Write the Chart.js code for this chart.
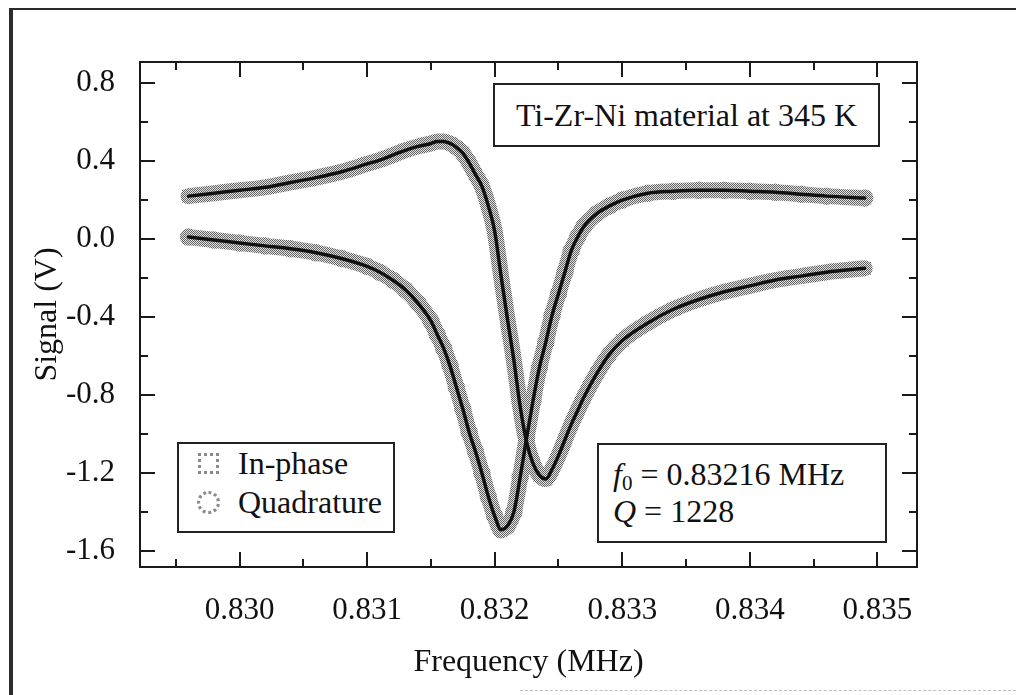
<!DOCTYPE html>
<html>
<head>
<meta charset="utf-8">
<title>Ti-Zr-Ni resonance</title>
<script src="https://cdn.jsdelivr.net/npm/chart.js@4.4.1/dist/chart.umd.min.js"></script>
<style>
  html, body { margin: 0; padding: 0; background: #fff; }
  #wrap {
    position: relative; width: 1016px; height: 695px; overflow: hidden;
    font-family: "Liberation Serif", "Times New Roman", serif; color: #111;
  }
  #chart { position: absolute; left: 0; top: 0; }
  .frame-top { position: absolute; left: 9px; top: 8px; width: 1007px; height: 2px; background: #2b2b2b; }
  .frame-left { position: absolute; left: 9px; top: 8px; width: 4px; height: 687px; background: #2b2b2b; }
  .frame-bottom { position: absolute; left: 520px; top: 690px; width: 496px; border-top: 1px dashed #bdbdbd; }
  .box { position: absolute; box-sizing: border-box; border: 2px solid #222; background: #fff; font-size: 32px; white-space: nowrap; }
  #title-box { left: 493px; top: 83px; width: 387px; height: 64px; line-height: 60px; text-align: center; }
  #legend-box { left: 177px; top: 442px; width: 218px; height: 91px; padding-top: 0; line-height: 39px; }
  #legend-box .row { position: relative; padding-left: 59px; }
  #legend-box .sym { position: absolute; left: 19px; top: 9px; width: 21px; height: 21px; box-sizing: border-box; border: 3px dotted #8a8a8a; }
  #legend-box .sym.circle { border-radius: 50%; width: 23px; height: 23px; left: 18px; top: 8px; }
  #fit-box { left: 597px; top: 443px; width: 290px; height: 100px; padding: 11px 0 0 14px; line-height: 37px; }
  #fit-box sub { font-size: 21px; vertical-align: -5px; line-height: 0; }
</style>
</head>
<body>
<div id="wrap">
  <canvas id="chart" width="1016" height="695"></canvas>
  <div class="frame-top"></div>
  <div class="frame-left"></div>
  <div class="frame-bottom"></div>
  <div class="box" id="title-box">Ti-Zr-Ni material at 345 K</div>
  <div class="box" id="legend-box">
    <div class="row"><span class="sym"></span>In-phase</div>
    <div class="row"><span class="sym circle"></span>Quadrature</div>
  </div>
  <div class="box" id="fit-box">
    <div><i>f</i><sub>0</sub> = 0.83216 MHz</div>
    <div><i>Q</i> = 1228</div>
  </div>
</div>
<script>
// lock-in signal vs drive frequency, fitted with a Lorentzian response
const freqMHz = [
  0.82960, 0.82980, 0.83000, 0.83020, 0.83040, 0.83060, 0.83080, 0.83100,
  0.83110, 0.83120, 0.83130, 0.83140, 0.83150, 0.83155, 0.83160, 0.83165,
  0.83170, 0.83175, 0.83180, 0.83185, 0.83190, 0.83195, 0.83200, 0.83205,
  0.83210, 0.83215, 0.83220, 0.83225, 0.83230, 0.83235, 0.83240, 0.83245,
  0.83250, 0.83255, 0.83260, 0.83265, 0.83270, 0.83280, 0.83290, 0.83300,
  0.83320, 0.83340, 0.83360, 0.83380, 0.83400, 0.83420, 0.83440, 0.83460,
  0.83490
];
const inPhaseV = [
  0.22, 0.235, 0.25, 0.265, 0.29, 0.315, 0.345, 0.385,
  0.405, 0.43, 0.455, 0.475, 0.49, 0.50, 0.50, 0.49,
  0.47, 0.44, 0.39, 0.33, 0.27, 0.17, 0.04, -0.19,
  -0.41, -0.62, -0.86, -1.04, -1.15, -1.21, -1.23, -1.18,
  -1.11, -1.03, -0.95, -0.88, -0.81, -0.69, -0.59, -0.52,
  -0.43, -0.36, -0.31, -0.27, -0.24, -0.21, -0.19, -0.17,
  -0.15
];
const quadratureV = [
  0.01, -0.005, -0.02, -0.035, -0.05, -0.07, -0.10, -0.14,
  -0.17, -0.21, -0.26, -0.33, -0.42, -0.49, -0.56, -0.65,
  -0.76, -0.87, -0.99, -1.09, -1.20, -1.32, -1.42, -1.49,
  -1.47, -1.40, -1.22, -1.02, -0.83, -0.66, -0.53, -0.39,
  -0.28, -0.17, -0.06, 0.01, 0.065, 0.13, 0.17, 0.20,
  0.235, 0.245, 0.25, 0.25, 0.245, 0.24, 0.23, 0.22,
  0.21
];

const xTickValues = [0.830, 0.831, 0.832, 0.833, 0.834, 0.835];
const xMinorTicks = [0.8295, 0.8305, 0.8315, 0.8325, 0.8335, 0.8345];
const yTickValues = [-1.6, -1.2, -0.8, -0.4, 0.0, 0.4, 0.8];
const yMinorTicks = [-1.4, -1.0, -0.6, -0.2, 0.2, 0.6];

const serif = '"Liberation Serif", "Times New Roman", serif';
const ink = '#111';

// dithered grey used for the data markers
function ditherPattern() {
  const c = document.createElement('canvas');
  c.width = 2; c.height = 2;
  const g = c.getContext('2d');
  g.fillStyle = '#e2e2e2';
  g.fillRect(0, 0, 2, 2);
  g.fillStyle = '#636363';
  g.fillRect(0, 0, 1, 1);
  g.fillRect(1, 1, 1, 1);
  return g.createPattern(c, 'repeat');
}
const grey = ditherPattern();

const toPoints = vals => freqMHz.map((f, i) => ({ x: f, y: vals[i] }));

function markerSet(label, vals, style) {
  return {
    label,
    data: toPoints(vals),
    showLine: true,
    borderColor: grey,
    borderWidth: 16,
    borderCapStyle: 'round',
    borderJoinStyle: 'round',
    cubicInterpolationMode: 'monotone',
    pointStyle: style,
    pointRadius: 8,
    pointBorderWidth: 1.5,
    pointBorderColor: grey,
    pointBackgroundColor: 'rgba(0,0,0,0)',
    order: 2
  };
}

function fitSet(label, vals) {
  return {
    label,
    data: toPoints(vals),
    showLine: true,
    borderColor: ink,
    borderWidth: 3.5,
    borderCapStyle: 'round',
    cubicInterpolationMode: 'monotone',
    pointRadius: 0,
    order: 1
  };
}

// plot frame with inward ticks on all four sides
const frameTicks = {
  id: 'frameTicks',
  afterDatasetsDraw(chart) {
    const { ctx, chartArea: a, scales: { x, y } } = chart;
    ctx.save();
    ctx.strokeStyle = '#1a1a1a';
    ctx.lineWidth = 2;
    ctx.strokeRect(a.left, a.top, a.right - a.left, a.bottom - a.top);
    const xt = (v, len) => {
      const px = Math.round(x.getPixelForValue(v));
      ctx.beginPath();
      ctx.moveTo(px, a.bottom); ctx.lineTo(px, a.bottom - len);
      ctx.moveTo(px, a.top); ctx.lineTo(px, a.top + len);
      ctx.stroke();
    };
    const yt = (v, len) => {
      const py = Math.round(y.getPixelForValue(v));
      ctx.beginPath();
      ctx.moveTo(a.left, py); ctx.lineTo(a.left + len, py);
      ctx.moveTo(a.right, py); ctx.lineTo(a.right - len, py);
      ctx.stroke();
    };
    xTickValues.forEach(v => xt(v, 15));
    xMinorTicks.forEach(v => xt(v, 8));
    yTickValues.forEach(v => yt(v, 15));
    yMinorTicks.forEach(v => yt(v, 8));
    ctx.restore();
  }
};

new Chart(document.getElementById('chart'), {
  type: 'scatter',
  data: {
    datasets: [
      markerSet('In-phase', inPhaseV, 'rect'),
      markerSet('Quadrature', quadratureV, 'circle'),
      fitSet('In-phase fit', inPhaseV),
      fitSet('Quadrature fit', quadratureV)
    ]
  },
  options: {
    responsive: false,
    animation: false,
    layout: { padding: { top: 62, right: 99, left: 0, bottom: 0 } },
    plugins: { legend: { display: false }, tooltip: { enabled: false } },
    scales: {
      x: {
        type: 'linear',
        min: 0.82922,
        max: 0.83531,
        grid: { display: false },
        border: { display: false },
        afterBuildTicks: s => { s.ticks = xTickValues.map(v => ({ value: v })); },
        afterFit: s => { s.height = 128; },
        ticks: {
          autoSkip: false, maxRotation: 0, padding: 17, color: ink,
          font: { family: serif, size: 31 },
          callback: v => v.toFixed(3)
        },
        title: {
          display: true, text: 'Frequency (MHz)', color: ink,
          font: { family: serif, size: 32 },
          padding: { top: 0, bottom: 13 }
        }
      },
      y: {
        type: 'linear',
        min: -1.681,
        max: 0.9075,
        grid: { display: false },
        border: { display: false },
        afterBuildTicks: s => { s.ticks = yTickValues.map(v => ({ value: v })); },
        afterFit: s => { s.width = 140; },
        ticks: {
          autoSkip: false, padding: 17, color: ink,
          font: { family: serif, size: 31 },
          callback: v => v.toFixed(1)
        },
        title: {
          display: true, text: 'Signal (V)', color: ink,
          font: { family: serif, size: 32 },
          padding: { top: 28, bottom: 0 }
        }
      }
    }
  },
  plugins: [frameTicks]
});
</script>
</body>
</html>
